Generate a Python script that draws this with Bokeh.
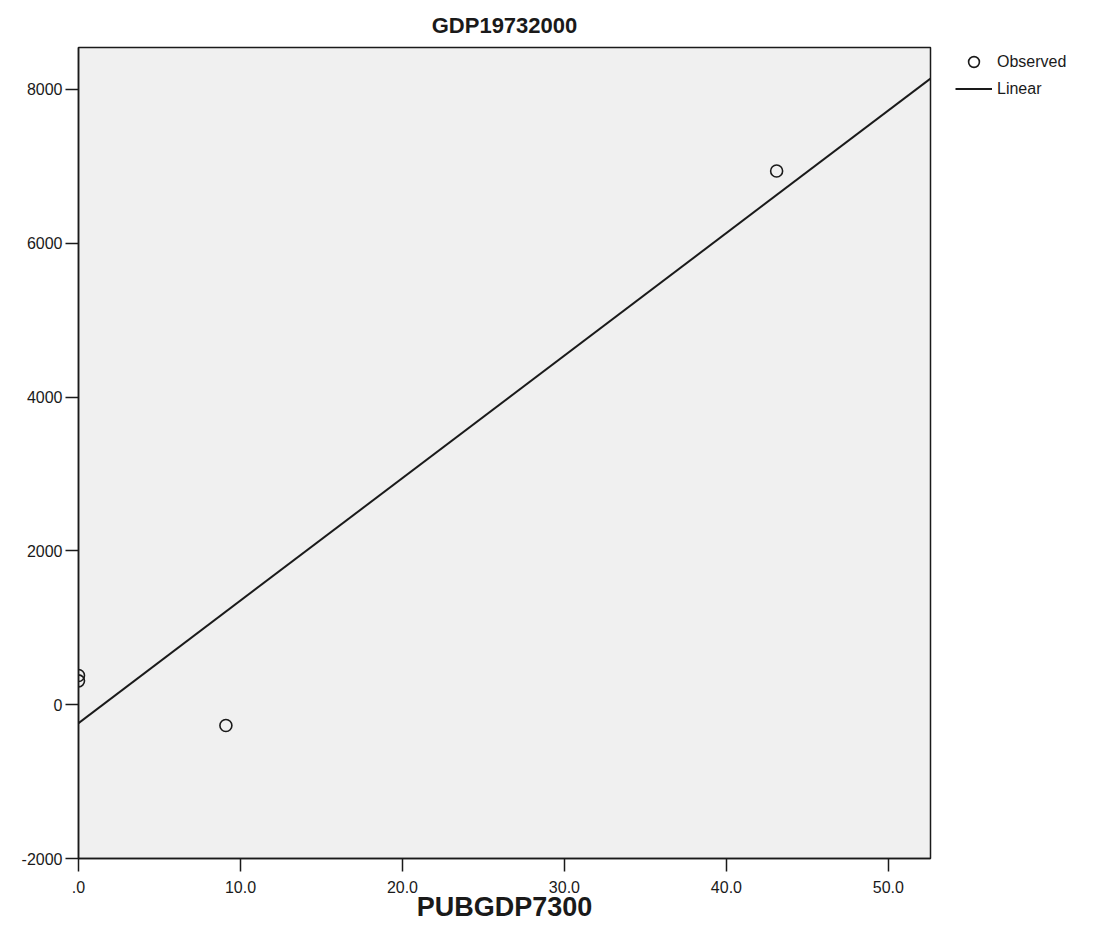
import numpy as np
from bokeh.plotting import figure
from bokeh.models import (FixedTicker, Range1d, Legend, LegendItem, ColumnDataSource)
from bokeh.embed import file_html
from bokeh.resources import INLINE

# Data
pubgdp = [0.0, 0.0, 9.1, 43.1]
gdp = [380, 310, -270, 6940]
x_ticks = [0, 10, 20, 30, 40, 50]
x_tick_labels = [".0", "10.0", "20.0", "30.0", "40.0", "50.0"]
y_ticks = [-2000, 0, 2000, 4000, 6000, 8000]
y_tick_labels = ["-2000", "0", "2000", "4000", "6000", "8000"]
x_range = (0, 52.6)
y_range = (-2000, 8546)

slope, intercept = np.polyfit(pubgdp, gdp, 1)
fit_x = [x_range[0], x_range[1]]
fit_y = [intercept + slope * v for v in fit_x]

FONT = "Liberation Sans"
INK = "#1a1a1a"

p = figure(frame_width=852, frame_height=811, output_backend="svg", toolbar_location=None,
           x_range=Range1d(*x_range), y_range=Range1d(*y_range),
           min_border_left=78, min_border_right=10, min_border_top=0, min_border_bottom=80)
p.background_fill_color = "#f0f0f0"
p.border_fill_color = "white"
p.outline_line_color = INK
p.outline_line_width = 1.5
p.xgrid.visible = False
p.ygrid.visible = False

p.title.text = "GDP19732000"
p.title.align = "center"
p.title.text_font = FONT
p.title.text_font_size = "22px"
p.title.text_font_style = "bold"
p.title.text_color = INK
p.title.standoff = 20

for ax in (p.xaxis[0], p.yaxis[0]):
    ax.axis_line_color = INK
    ax.axis_line_width = 1.5
    ax.major_tick_line_color = INK
    ax.major_tick_line_width = 1.5
    ax.major_tick_out = 13
    ax.major_tick_in = 0
    ax.minor_tick_line_color = None
    ax.major_label_text_font = FONT
    ax.major_label_text_font_size = "16px"
    ax.major_label_text_color = INK

p.xaxis.ticker = FixedTicker(ticks=x_ticks)
p.xaxis.major_label_overrides = {t: l for t, l in zip(x_ticks, x_tick_labels)}
p.xaxis.major_label_standoff = 9
p.yaxis.ticker = FixedTicker(ticks=y_ticks)
p.yaxis.major_label_overrides = {t: l for t, l in zip(y_ticks, y_tick_labels)}
p.yaxis.major_label_standoff = 3

p.xaxis.axis_label = "PUBGDP7300"
p.xaxis.axis_label_text_font = FONT
p.xaxis.axis_label_text_font_size = "27px"
p.xaxis.axis_label_text_font_style = "bold"
p.xaxis.axis_label_text_color = INK
p.xaxis.axis_label_standoff = -4

src = ColumnDataSource(dict(x=pubgdp, y=gdp))
obs = p.scatter("x", "y", source=src, marker="circle", size=12, fill_color=None,
                line_color=INK, line_width=1.6)
lin = p.line(fit_x, fit_y, line_color=INK, line_width=2)

legend = Legend(items=[LegendItem(label="Observed", renderers=[obs]),
                       LegendItem(label="Linear", renderers=[lin])],
                location=(25, 756), margin=0, padding=0, spacing=0,
                glyph_width=37, glyph_height=27, label_height=27,
                label_standoff=5, border_line_color=None, background_fill_alpha=0,
                label_text_font=FONT, label_text_font_size="16px", label_text_color=INK)
p.add_layout(legend, "right")

open("out.html", "w").write(file_html(p, INLINE))
